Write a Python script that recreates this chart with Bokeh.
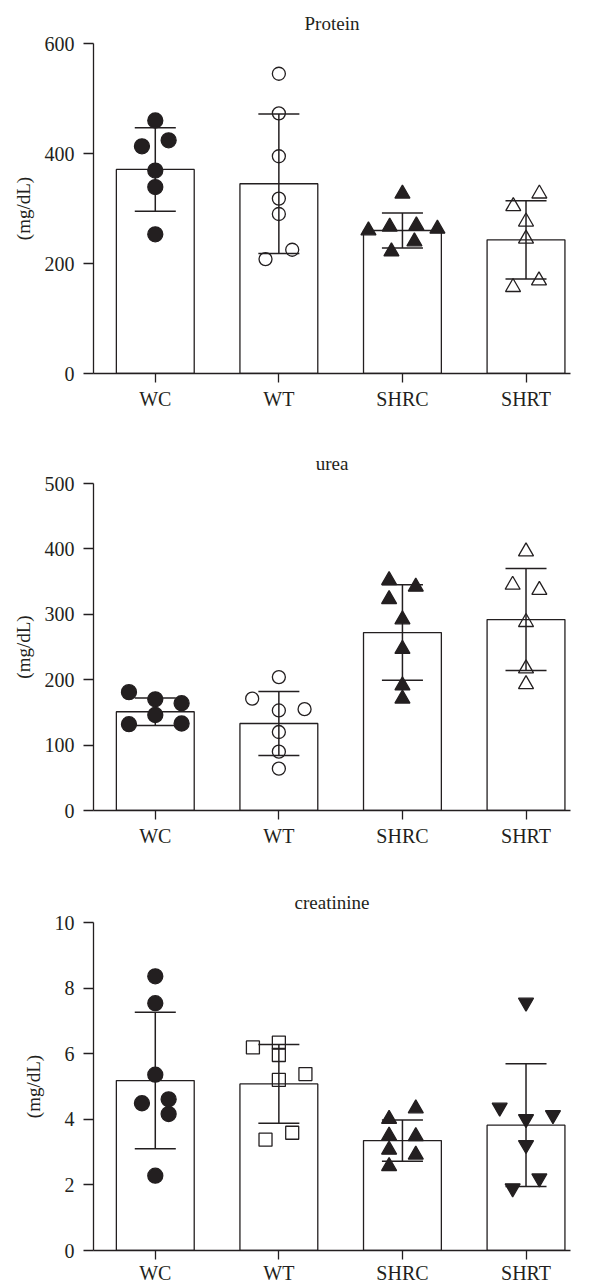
from bokeh.plotting import figure
from bokeh.layouts import column
from bokeh.models import Range1d, FixedTicker
from bokeh.embed import file_html
from bokeh.resources import INLINE

categories = ["WC", "WT", "SHRC", "SHRT"]
xpos = [1, 2, 3, 4]

# ---- Protein (mg/dL) ----
protein_mean = [371, 345, 260, 243]
protein_sd = [76, 127, 32, 71]
protein_wc = [460, 413, 424, 369, 339, 253]
protein_wt = [545, 473, 395, 318, 290, 225, 208]
protein_shrc = [327, 260, 267, 269, 263, 240, 222]
protein_shrt = [327, 304, 276, 245, 169, 157]
protein_ticks = [0, 200, 400, 600]

# ---- urea (mg/dL) ----
urea_mean = [151, 133, 272, 292]
urea_sd = [21, 49, 73, 78]
urea_wc = [181, 170, 164, 146, 132, 133]
urea_wt = [204, 171, 153, 155, 120, 90, 64]
urea_shrc = [352, 342, 323, 292, 247, 191, 171]
urea_shrt = [396, 345, 337, 288, 217, 193]
urea_ticks = [0, 100, 200, 300, 400, 500]

# ---- creatinine (mg/dL) ----
creat_mean = [5.18, 5.08, 3.35, 3.82]
creat_sd = [2.08, 1.2, 0.63, 1.87]
creat_wc = [8.36, 7.54, 5.36, 4.49, 4.61, 4.16, 2.28]
creat_wt = [6.19, 6.34, 5.96, 5.20, 5.38, 3.59, 3.38]
creat_shrc = [4.33, 4.01, 3.50, 3.48, 3.07, 2.92, 2.57]
creat_shrt = [7.56, 4.36, 4.13, 4.01, 3.22, 2.20, 1.90]
creat_ticks = [0, 2, 4, 6, 8, 10]

# horizontal scatter offsets of the points (category units)
jit_protein = [
    [0, -0.108, 0.108, 0, 0, 0],
    [0, 0, 0, 0, 0, 0.108, -0.108],
    [0, -0.275, -0.103, 0.113, 0.283, 0.097, -0.089],
    [0.108, -0.103, 0, 0, 0.105, -0.105],
]
jit_urea = [
    [-0.213, 0, 0.213, 0, -0.213, 0.213],
    [0, -0.216, 0, 0.208, 0, 0, 0],
    [-0.108, 0.108, -0.108, 0, 0, 0, 0],
    [0, -0.108, 0.108, 0, 0, 0],
]
jit_creat = [
    [0, 0, 0, -0.108, 0.108, 0.108, 0],
    [-0.21, 0, 0, 0, 0.215, 0.108, -0.108],
    [0.108, -0.108, -0.108, 0.108, -0.108, 0.108, -0.108],
    [0, -0.213, 0.218, 0, 0, 0.108, -0.108],
]

INK = "#231f20"
FONT = "Liberation Serif"


def panel(title, ymax, yticks, means, sds, groups, jits, markers, filled, sizes,
          height, top, bottom, title_standoff, xlabel_standoff):
    p = figure(width=589, height=height, x_range=Range1d(0.5, 4.36),
               y_range=Range1d(0, ymax), output_backend="svg",
               toolbar_location=None, min_border_left=93, min_border_right=19,
               min_border_top=top, min_border_bottom=bottom, title=title)
    p.title.align = "center"
    p.title.text_font = FONT
    p.title.text_font_size = "19px"
    p.title.text_font_style = "normal"
    p.title.text_color = INK
    p.title.standoff = title_standoff
    p.outline_line_color = None
    p.xgrid.visible = False
    p.ygrid.visible = False
    p.background_fill_color = "white"
    p.border_fill_color = "white"

    for ax in (p.xaxis[0], p.yaxis[0]):
        ax.axis_line_color = INK
        ax.axis_line_width = 1.3
        ax.major_tick_line_color = INK
        ax.major_tick_line_width = 1.3
        ax.major_tick_in = 0
        ax.minor_tick_line_color = None
        ax.major_label_text_font = FONT
        ax.major_label_text_font_size = "20px"
        ax.major_label_text_color = INK

    p.xaxis.ticker = FixedTicker(ticks=xpos)
    p.xaxis.major_label_overrides = {x: c for x, c in zip(xpos, categories)}
    p.xaxis.major_tick_out = 9
    p.xaxis.major_label_standoff = xlabel_standoff

    p.yaxis.ticker = FixedTicker(ticks=yticks)
    p.yaxis.major_tick_out = 10
    p.yaxis.major_label_standoff = 9
    p.yaxis.axis_label = "(mg/dL)"
    p.yaxis.axis_label_text_font = FONT
    p.yaxis.axis_label_text_font_size = "19px"
    p.yaxis.axis_label_text_font_style = "normal"
    p.yaxis.axis_label_text_color = INK
    p.yaxis.axis_label_standoff = 8

    # bars
    p.vbar(x=xpos, top=means, bottom=0, width=0.63, fill_color="white",
           line_color=INK, line_width=1.3)

    # error bars (mean +/- SD)
    lo = [m - s for m, s in zip(means, sds)]
    hi = [m + s for m, s in zip(means, sds)]
    p.segment(x0=xpos, y0=lo, x1=xpos, y1=hi, line_color=INK, line_width=1.5)
    cap = 0.166
    for ys in (lo, hi):
        p.segment(x0=[x - cap for x in xpos], y0=ys, x1=[x + cap for x in xpos],
                  y1=ys, line_color=INK, line_width=1.5)

    # individual points
    for x, vals, jit, mk, fl, sz in zip(xpos, groups, jits, markers, filled, sizes):
        xs = [x + j for j in jit]
        p.scatter(x=xs, y=vals, marker=mk, size=sz,
                  fill_color=INK if fl else "white",
                  fill_alpha=1.0 if fl else 0.0,
                  line_color=INK, line_width=1.3)
    return p


p1 = panel("Protein", 600, protein_ticks, protein_mean, protein_sd,
           [protein_wc, protein_wt, protein_shrc, protein_shrt], jit_protein,
           ["circle", "circle", "triangle", "triangle"],
           [True, False, True, False], [15, 13, 15, 15],
           height=430, top=43, bottom=57, title_standoff=20, xlabel_standoff=5)
p2 = panel("urea", 500, urea_ticks, urea_mean, urea_sd,
           [urea_wc, urea_wt, urea_shrc, urea_shrt], jit_urea,
           ["circle", "circle", "triangle", "triangle"],
           [True, False, True, False], [15, 13, 15, 15],
           height=440, top=53, bottom=60, title_standoff=20, xlabel_standoff=5)
p3 = panel("creatinine", 10, creat_ticks, creat_mean, creat_sd,
           [creat_wc, creat_wt, creat_shrc, creat_shrt], jit_creat,
           ["circle", "square", "triangle", "inverted_triangle"],
           [True, False, True, True], [15, 13, 15, 15],
           height=416, top=52, bottom=36, title_standoff=20, xlabel_standoff=2)

layout = column(p1, p2, p3, spacing=0)
open("out.html", "w").write(file_html(layout, INLINE))
